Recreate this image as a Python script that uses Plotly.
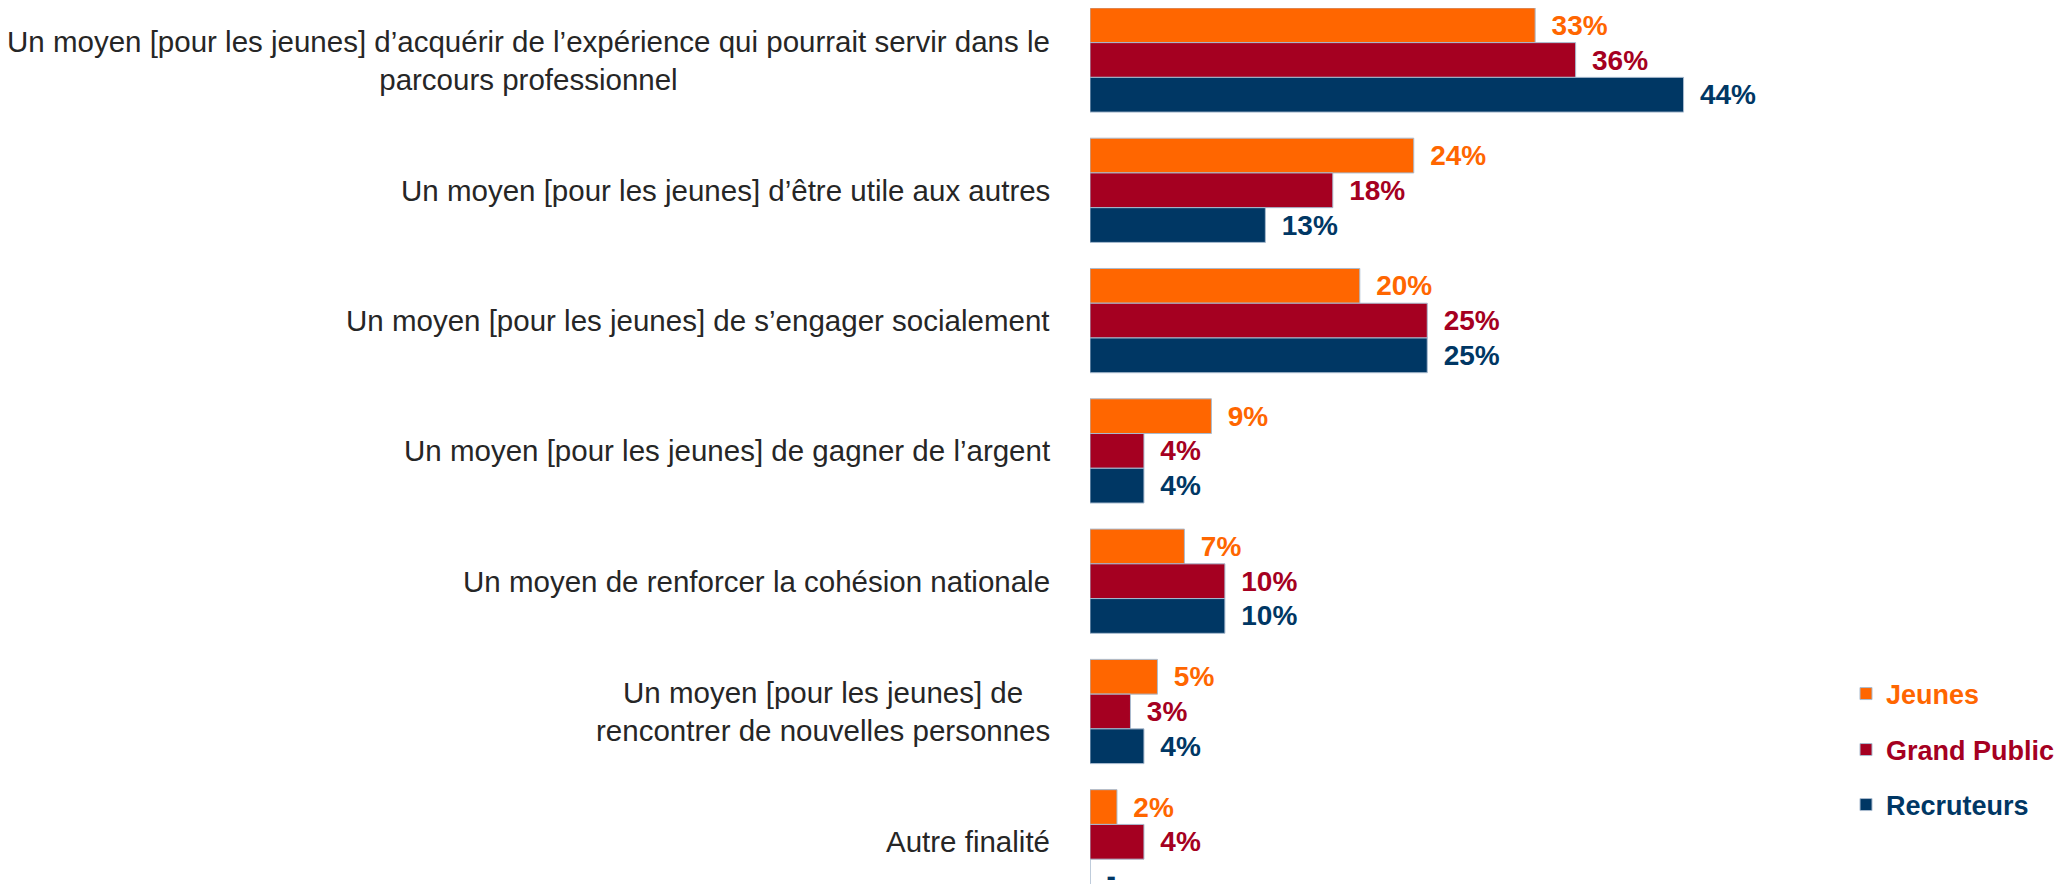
import plotly.graph_objects as go

categories = [
    "Un moyen [pour les jeunes] d’acquérir de l’expérience qui pourrait servir dans le<br>parcours professionnel",
    "Un moyen [pour les jeunes] d’être utile aux autres",
    "Un moyen [pour les jeunes] de s’engager socialement",
    "Un moyen [pour les jeunes] de gagner de l’argent",
    "Un moyen de renforcer la cohésion nationale",
    "Un moyen [pour les jeunes] de<br>rencontrer de nouvelles personnes",
    "Autre finalité",
]
series_names = ["Jeunes", "Grand Public", "Recruteurs"]
jeunes = [33, 24, 20, 9, 7, 5, 2]
grand_public = [36, 18, 25, 4, 10, 3, 4]
recruteurs = [44, 13, 25, 4, 10, 4, 0]
colors = ["#FF6600", "#A50021", "#003764"]

FONT = "Liberation Sans, Arial, sans-serif"
W, H = 2062, 884
OFF = 8            # page body margin compensation
ML = 1090 - OFF
PITCH = 130.3
TOP_CENTER = 60 - OFF
PX_PER_PCT = 13.49

fig = go.Figure()
legends = ["legend", "legend2", "legend3"]
for name, vals, col, lg in zip(series_names, [jeunes, grand_public, recruteurs], colors, legends):
    fig.add_trace(go.Bar(
        y=list(range(len(categories))), x=vals, name=name, orientation="h",
        marker=dict(color=col, line=dict(color="#a9bbcf", width=1)),
        text=["\u00a0\u2009" + ("-" if v == 0 else f"{v}%") for v in vals],
        textposition="outside", constraintext="none", cliponaxis=False,
        textfont=dict(family=FONT, size=28, color=col, weight="bold"),
        legend=lg, hoverinfo="skip",
    ))

span = H / PITCH
top = -TOP_CENTER / PITCH
fig.update_yaxes(range=[top + span, top], showticklabels=False, showgrid=False,
                 zeroline=False, showline=False, ticks="")
plot_w = W - ML
fig.update_xaxes(range=[0, plot_w / PX_PER_PCT], showticklabels=False, showgrid=False,
                 zeroline=False, showline=False, ticks="")

# category labels (centered multi-line, right edge near axis)
for i, lab in enumerate(categories):
    fig.add_annotation(
        x=0, xref="x", y=i, yref="y", text=lab, showarrow=False,
        xanchor="right", yanchor="middle", align="center",
        font=dict(family=FONT, size=29.5, color="#262626"),
        xshift=-38,
    )

leg_x = (1846 - OFF - ML) / plot_w
leg_y = [694, 750, 805]
layout_leg = {}
for lg, col, yy in zip(legends, colors, leg_y):
    layout_leg[lg] = dict(
        x=leg_x, xanchor="left", y=1 - (yy - OFF) / H, yanchor="middle",
        font=dict(family=FONT, size=27, color=col, weight="bold"),
        bgcolor="rgba(0,0,0,0)", borderwidth=0,
    )

fig.update_layout(
    width=W, height=H, margin=dict(l=ML, r=0, t=0, b=0, autoexpand=False),
    plot_bgcolor="white", paper_bgcolor="white",
    barmode="group", bargap=0.2, bargroupgap=0,
    showlegend=True, **layout_leg,
)
fig.write_html("out.html")
